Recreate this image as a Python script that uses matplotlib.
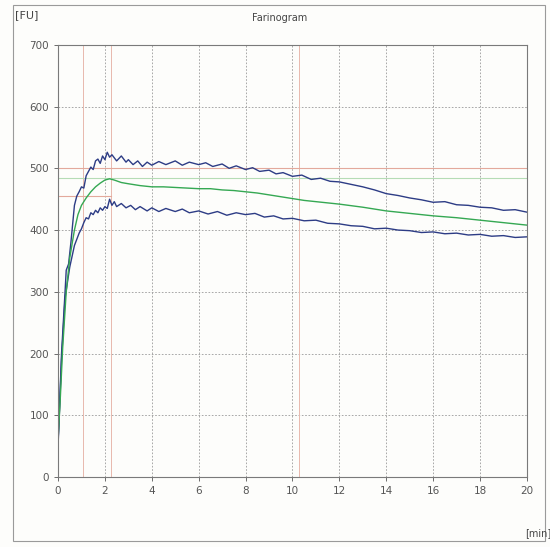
import matplotlib
matplotlib.use('Agg')
from matplotlib import pyplot as plt
from matplotlib.patches import Rectangle

# Farinogram curves (time in min, consistency in FU)
t_upper = [0, 0.05, 0.15, 0.3, 0.35, 0.45, 0.55, 0.7, 0.8, 0.9, 1.0, 1.1, 1.2, 1.3, 1.4,
           1.5, 1.6, 1.7, 1.8, 1.9, 2.0, 2.1, 2.2, 2.3, 2.5, 2.7, 2.9, 3.0, 3.2, 3.4,
           3.6, 3.8, 4.0, 4.3, 4.6, 5.0, 5.3, 5.6, 6.0, 6.3, 6.6, 7.0, 7.3, 7.6, 8.0,
           8.3, 8.6, 9.0, 9.3, 9.6, 10.0, 10.4, 10.8, 11.2, 11.6, 12.0, 12.5, 13.0, 13.5,
           14.0, 14.5, 15.0, 15.5, 16.0, 16.5, 17.0, 17.5, 18.0, 18.5, 19.0, 19.5, 20.0]
fu_upper = [55, 100, 200, 300, 335, 345, 380, 440, 455, 462, 470, 468, 488, 495, 502,
            498, 512, 515, 508, 520, 514, 526, 518, 522, 512, 520, 510, 514, 506, 512,
            503, 510, 505, 511, 506, 512, 505, 510, 506, 509, 503, 507, 500, 504, 498,
            501, 495, 497, 491, 493, 487, 489, 482, 484, 479, 478, 474, 470, 465,
            459, 456, 452, 449, 445, 446, 441, 440, 437, 436, 432, 433, 429]

t_lower = [0, 0.05, 0.15, 0.3, 0.5, 0.7, 0.9, 1.0, 1.1, 1.2, 1.3, 1.4, 1.5, 1.6, 1.7,
           1.8, 1.9, 2.0, 2.1, 2.2, 2.3, 2.4, 2.5, 2.7, 2.9, 3.1, 3.3, 3.5, 3.8, 4.0,
           4.3, 4.6, 5.0, 5.3, 5.6, 6.0, 6.4, 6.8, 7.2, 7.6, 8.0, 8.4, 8.8, 9.2, 9.6,
           10.0, 10.5, 11.0, 11.5, 12.0, 12.5, 13.0, 13.5, 14.0, 14.5, 15.0, 15.5, 16.0,
           16.5, 17.0, 17.5, 18.0, 18.5, 19.0, 19.5, 20.0]
fu_lower = [50, 95, 190, 290, 340, 375, 395, 402, 412, 420, 418, 428, 425, 432, 428,
            436, 432, 438, 435, 450, 440, 446, 438, 443, 436, 440, 433, 438, 431, 436,
            430, 435, 430, 434, 428, 431, 426, 430, 424, 428, 425, 427, 421, 423, 418,
            419, 415, 416, 411, 410, 407, 406, 402, 403, 400, 399, 396, 397,
            394, 395, 392, 393, 390, 391, 388, 389]

t_mean = [0, 0.1, 0.2, 0.35, 0.5, 0.7, 0.85, 1.0, 1.2, 1.4, 1.6, 1.8, 2.0, 2.2, 2.4,
          2.7, 3.0, 3.5, 4.0, 4.5, 5.0, 5.5, 6.0, 6.5, 7.0, 7.5, 8.0, 8.5, 9.0, 9.5,
          10.0, 10.5, 11.0, 11.5, 12.0, 13.0, 14.0, 15.0, 16.0, 17.0, 18.0, 19.0, 20.0]
fu_mean = [60, 130, 210, 300, 355, 400, 425, 440, 452, 462, 470, 476, 481, 483, 481,
           477, 475, 472, 470, 470, 469, 468, 467, 467, 465, 464, 462, 460, 457, 454,
           451, 448, 446, 444, 442, 437, 431, 427, 423, 420, 416, 412, 408]

# reference marks drawn by the instrument software
line_500 = 500
line_consistency = 484
line_low = 455
dev_times = [1.08, 2.24, 10.3]

x_ticks = list(range(0, 21, 2))
y_ticks = list(range(0, 701, 100))

fig = plt.figure(figsize=(5.5, 5.47), dpi=100)
fig.patch.set_facecolor('#fdfdfb')
fig.add_artist(Rectangle((0.024, 0.011), 0.967, 0.98, transform=fig.transFigure,
                         fill=False, edgecolor='#9a9a9a', linewidth=0.8))

ax = fig.add_axes([0.1055, 0.128, 0.8525, 0.79])
ax.set_facecolor('#fdfdfb')

ax.grid(True, color='#9a9a9a', linestyle=(0, (2, 2)), linewidth=0.6)
for t in dev_times:
    ax.axvline(t, color='#e8b8ad', linewidth=0.7)
ax.axhline(line_500, color='#e3a99c', linewidth=0.8)
ax.axhline(line_consistency, color='#b5dcb5', linewidth=0.8)
ax.plot([0, dev_times[1]], [line_low, line_low], color='#e3a99c', linewidth=0.8)

ax.plot(t_upper, fu_upper, color='#2d3c85', linewidth=1.0)
ax.plot(t_lower, fu_lower, color='#2d3c85', linewidth=1.0)
ax.plot(t_mean, fu_mean, color='#35a853', linewidth=1.0)

ax.set_xlim(0, 20)
ax.set_ylim(0, 700)
ax.set_xticks(x_ticks)
ax.set_yticks(y_ticks)
ax.tick_params(labelsize=7.5, colors='#555555', length=3, width=0.6)
for s in ax.spines.values():
    s.set_color('#7a7a7a')
    s.set_linewidth(0.8)

fig.text(0.509, 0.967, 'Farinogram', ha='center', va='center', fontsize=7, color='#444444')
fig.text(0.027, 0.972, '[FU]', ha='left', va='center', fontsize=8, color='#444444')
fig.text(0.955, 0.026, '[min]', ha='left', va='center', fontsize=7, color='#444444')

plt.savefig('out.png', dpi=100, facecolor=fig.get_facecolor())
